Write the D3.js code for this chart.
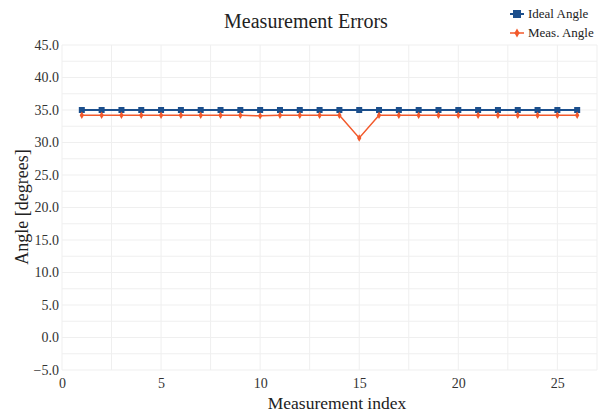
<!DOCTYPE html>
<html>
<head>
<meta charset="utf-8">
<script src="https://cdn.jsdelivr.net/npm/d3@7"></script>
<style>
  body { margin: 0; background: #fff; }
  text { font-family: "Liberation Serif", "Times New Roman", serif; }
</style>
</head>
<body>
<div id="chart"></div>
<script>
var index = d3.range(1, 27);
var idealAngle = [35, 35, 35, 35, 35, 35, 35, 35, 35, 35, 35, 35, 35, 35, 35, 35, 35, 35, 35, 35, 35, 35, 35, 35, 35, 35];
var measAngle = [34.2, 34.2, 34.2, 34.2, 34.2, 34.2, 34.2, 34.2, 34.2, 34.1, 34.2, 34.2, 34.2, 34.2, 30.7, 34.2,
                 34.2, 34.2, 34.2, 34.2, 34.2, 34.2, 34.2, 34.2, 34.2, 34.2];
var xTicks = [0, 5, 10, 15, 20, 25];
var yTicks = [-5, 0, 5, 10, 15, 20, 25, 30, 35, 40, 45];

var margin = {top: 45, right: 4, bottom: 45, left: 62},
    width = 601 - margin.left - margin.right,
    height = 415 - margin.top - margin.bottom;

var svg = d3.select("#chart")
  .append("svg")
    .attr("width", 601)
    .attr("height", 415);

var g = svg.append("g")
    .attr("transform", "translate(" + margin.left + "," + margin.top + ")");

var x = d3.scaleLinear().domain([0, 27]).range([0, width]);
var y = d3.scaleLinear().domain([-5, 45]).range([height, 0]);

// grid, every 2.5
g.append("g")
  .selectAll("line")
  .data(d3.range(0, 27.1, 2.5))
  .join("line")
    .attr("x1", d => x(d)).attr("x2", d => x(d))
    .attr("y1", 0).attr("y2", height)
    .attr("stroke", "#efefef");
g.append("line")
  .attr("x1", width).attr("x2", width).attr("y1", 0).attr("y2", height)
  .attr("stroke", "#efefef");
g.append("g")
  .selectAll("line")
  .data(d3.range(-5, 45.1, 2.5))
  .join("line")
    .attr("x1", 0).attr("x2", width)
    .attr("y1", d => y(d)).attr("y2", d => y(d))
    .attr("stroke", "#efefef");

var xAxis = g.append("g")
  .attr("transform", "translate(0," + height + ")")
  .call(d3.axisBottom(x).tickValues(xTicks).tickSize(0).tickPadding(8));
var yAxis = g.append("g")
  .call(d3.axisLeft(y).tickValues(yTicks).tickFormat(d3.format(".1f")).tickSize(0).tickPadding(3));
[xAxis, yAxis].forEach(function(a) {
  a.select(".domain").remove();
  a.selectAll("text")
    .attr("font-family", "Liberation Serif, serif")
    .attr("font-size", 14)
    .attr("fill", "#333");
});

var blue = "#1c4f8c", orange = "#f2592b";

var line = d3.line()
  .x(function(d) { return x(d[0]) })
  .y(function(d) { return y(d[1]) });

var ideal = index.map((d, i) => [d, idealAngle[i]]);
var meas = index.map((d, i) => [d, measAngle[i]]);

g.append("path")
  .datum(ideal)
  .attr("fill", "none")
  .attr("stroke", blue)
  .attr("stroke-width", 2)
  .attr("d", line);
g.append("g").selectAll("rect")
  .data(ideal)
  .join("rect")
    .attr("x", d => x(d[0]) - 3)
    .attr("y", d => y(d[1]) - 3)
    .attr("width", 6).attr("height", 6)
    .attr("fill", blue);

g.append("path")
  .datum(meas)
  .attr("fill", "none")
  .attr("stroke", orange)
  .attr("stroke-width", 1.5)
  .attr("d", line);
g.append("g").selectAll("path")
  .data(meas)
  .join("path")
    .attr("transform", d => "translate(" + x(d[0]) + "," + y(d[1]) + ")")
    .attr("d", d3.symbol(d3.symbolDiamond, 16))
    .attr("fill", orange);

// title and labels
svg.append("text")
  .attr("x", 306).attr("y", 28)
  .attr("text-anchor", "middle")
  .attr("font-size", 20)
  .attr("fill", "#222")
  .text("Measurement Errors");

svg.append("text")
  .attr("x", 337).attr("y", 409)
  .attr("text-anchor", "middle")
  .attr("font-size", 17.5)
  .attr("fill", "#222")
  .text("Measurement index");

svg.append("text")
  .attr("transform", "translate(28,207) rotate(-90)")
  .attr("text-anchor", "middle")
  .attr("font-size", 18)
  .attr("fill", "#222")
  .text("Angle [degrees]");

// legend
var legend = svg.append("g").attr("transform", "translate(510,0)");
legend.append("line")
  .attr("x1", 0).attr("x2", 14).attr("y1", 14).attr("y2", 14)
  .attr("stroke", blue).attr("stroke-width", 2);
legend.append("rect")
  .attr("x", 3).attr("y", 10).attr("width", 8).attr("height", 8)
  .attr("fill", blue);
legend.append("text")
  .attr("x", 18).attr("y", 18)
  .attr("font-size", 13).attr("fill", "#222")
  .text("Ideal Angle");
legend.append("line")
  .attr("x1", 0).attr("x2", 14).attr("y1", 33).attr("y2", 33)
  .attr("stroke", orange).attr("stroke-width", 1.5);
legend.append("path")
  .attr("transform", "translate(7,33)")
  .attr("d", d3.symbol(d3.symbolDiamond, 24))
  .attr("fill", orange);
legend.append("text")
  .attr("x", 18).attr("y", 37)
  .attr("font-size", 13).attr("fill", "#222")
  .text("Meas. Angle");
</script>
</body>
</html>
